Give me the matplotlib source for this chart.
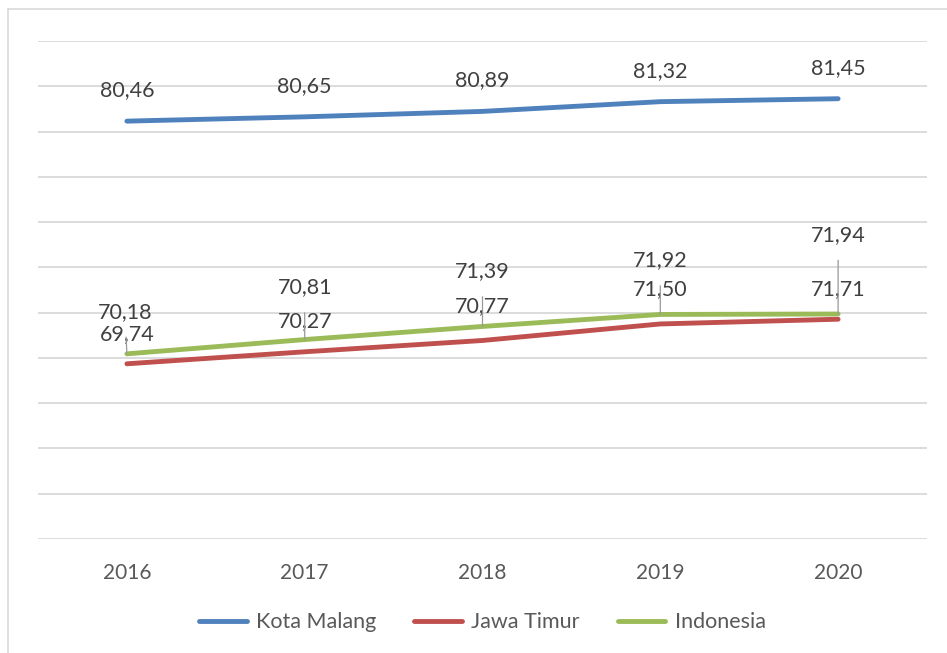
import matplotlib.pyplot as plt
from matplotlib.lines import Line2D

years = ['2016', '2017', '2018', '2019', '2020']
kota_malang = [80.46, 80.65, 80.89, 81.32, 81.45]
jawa_timur = [69.74, 70.27, 70.77, 71.50, 71.71]
indonesia = [70.18, 70.81, 71.39, 71.92, 71.94]

colors = {'Kota Malang': '#4F81BD', 'Jawa Timur': '#C0504D', 'Indonesia': '#9BBB59'}
text_color = '#404040'
label_size = 15.5

plt.rcParams['font.family'] = ['Lato', 'DejaVu Sans']

fig = plt.figure(figsize=(9.47, 6.53), dpi=100)
ax = fig.add_axes([38 / 947, 1 - 539 / 653, 889 / 947, 498 / 653])

x = list(range(len(years)))
ax.plot(x, kota_malang, color=colors['Kota Malang'], lw=3.5, solid_capstyle='round', label='Kota Malang', zorder=3)
ax.plot(x, jawa_timur, color=colors['Jawa Timur'], lw=3.5, solid_capstyle='round', label='Jawa Timur', zorder=3)
ax.plot(x, indonesia, color=colors['Indonesia'], lw=3.5, solid_capstyle='round', label='Indonesia', zorder=4)

ax.set_xlim(-0.5, 4.5)
ax.set_ylim(62, 84)
ax.set_yticks(range(62, 85, 2))
ax.set_yticklabels([])
ax.set_xticks(x)
ax.set_xticklabels(years, fontsize=15, color='#595959')
ax.tick_params(axis='both', length=0, pad=17)
ax.grid(True, axis='y', color='#d9d9d9', lw=1.3)
ax.set_axisbelow(True)
for s in ax.spines.values():
    s.set_visible(False)

def fmt(v):
    return f'{v:.2f}'.replace('.', ',')

# Kota Malang labels above points
for i, v in enumerate(kota_malang):
    ax.annotate(fmt(v), (i, v), xytext=(0, 31), textcoords='offset pixels',
                ha='center', va='center', fontsize=label_size, color=text_color)

# Jawa Timur labels
jt_off = [30, 31, 34, 35, 30]
for i, v in enumerate(jawa_timur):
    ax.annotate(fmt(v), (i, v), xytext=(0, jt_off[i]), textcoords='offset pixels',
                ha='center', va='center', fontsize=label_size, color=text_color, zorder=5)

# Indonesia labels with leader lines
ind_off = [42, 52, 55, 54, 79]
ind_dx = [-2, 0, 0, 0, 0]
for i, v in enumerate(indonesia):
    ax.annotate(fmt(v), (i, v), xytext=(ind_dx[i], ind_off[i]), textcoords='offset pixels',
                ha='center', va='center', fontsize=label_size, color=text_color, zorder=5,
                arrowprops=dict(arrowstyle='-', color='#999999', lw=0.9,
                                shrinkA=9, shrinkB=0))

ax.legend(loc='upper center', bbox_to_anchor=(0.5, -0.108), ncol=3, frameon=False,
          fontsize=label_size, handlelength=2.2, handletextpad=0.45, columnspacing=1.75,
          labelcolor='#595959')

# chart border (top and left)
fig.add_artist(Line2D([8 / 947, 1], [1 - 9 / 653, 1 - 9 / 653], transform=fig.transFigure, color='#d9d9d9', lw=1.2))
fig.add_artist(Line2D([8 / 947, 8 / 947], [0, 1 - 9 / 653], transform=fig.transFigure, color='#d9d9d9', lw=1.2))

fig.savefig('out.png', dpi=100)
